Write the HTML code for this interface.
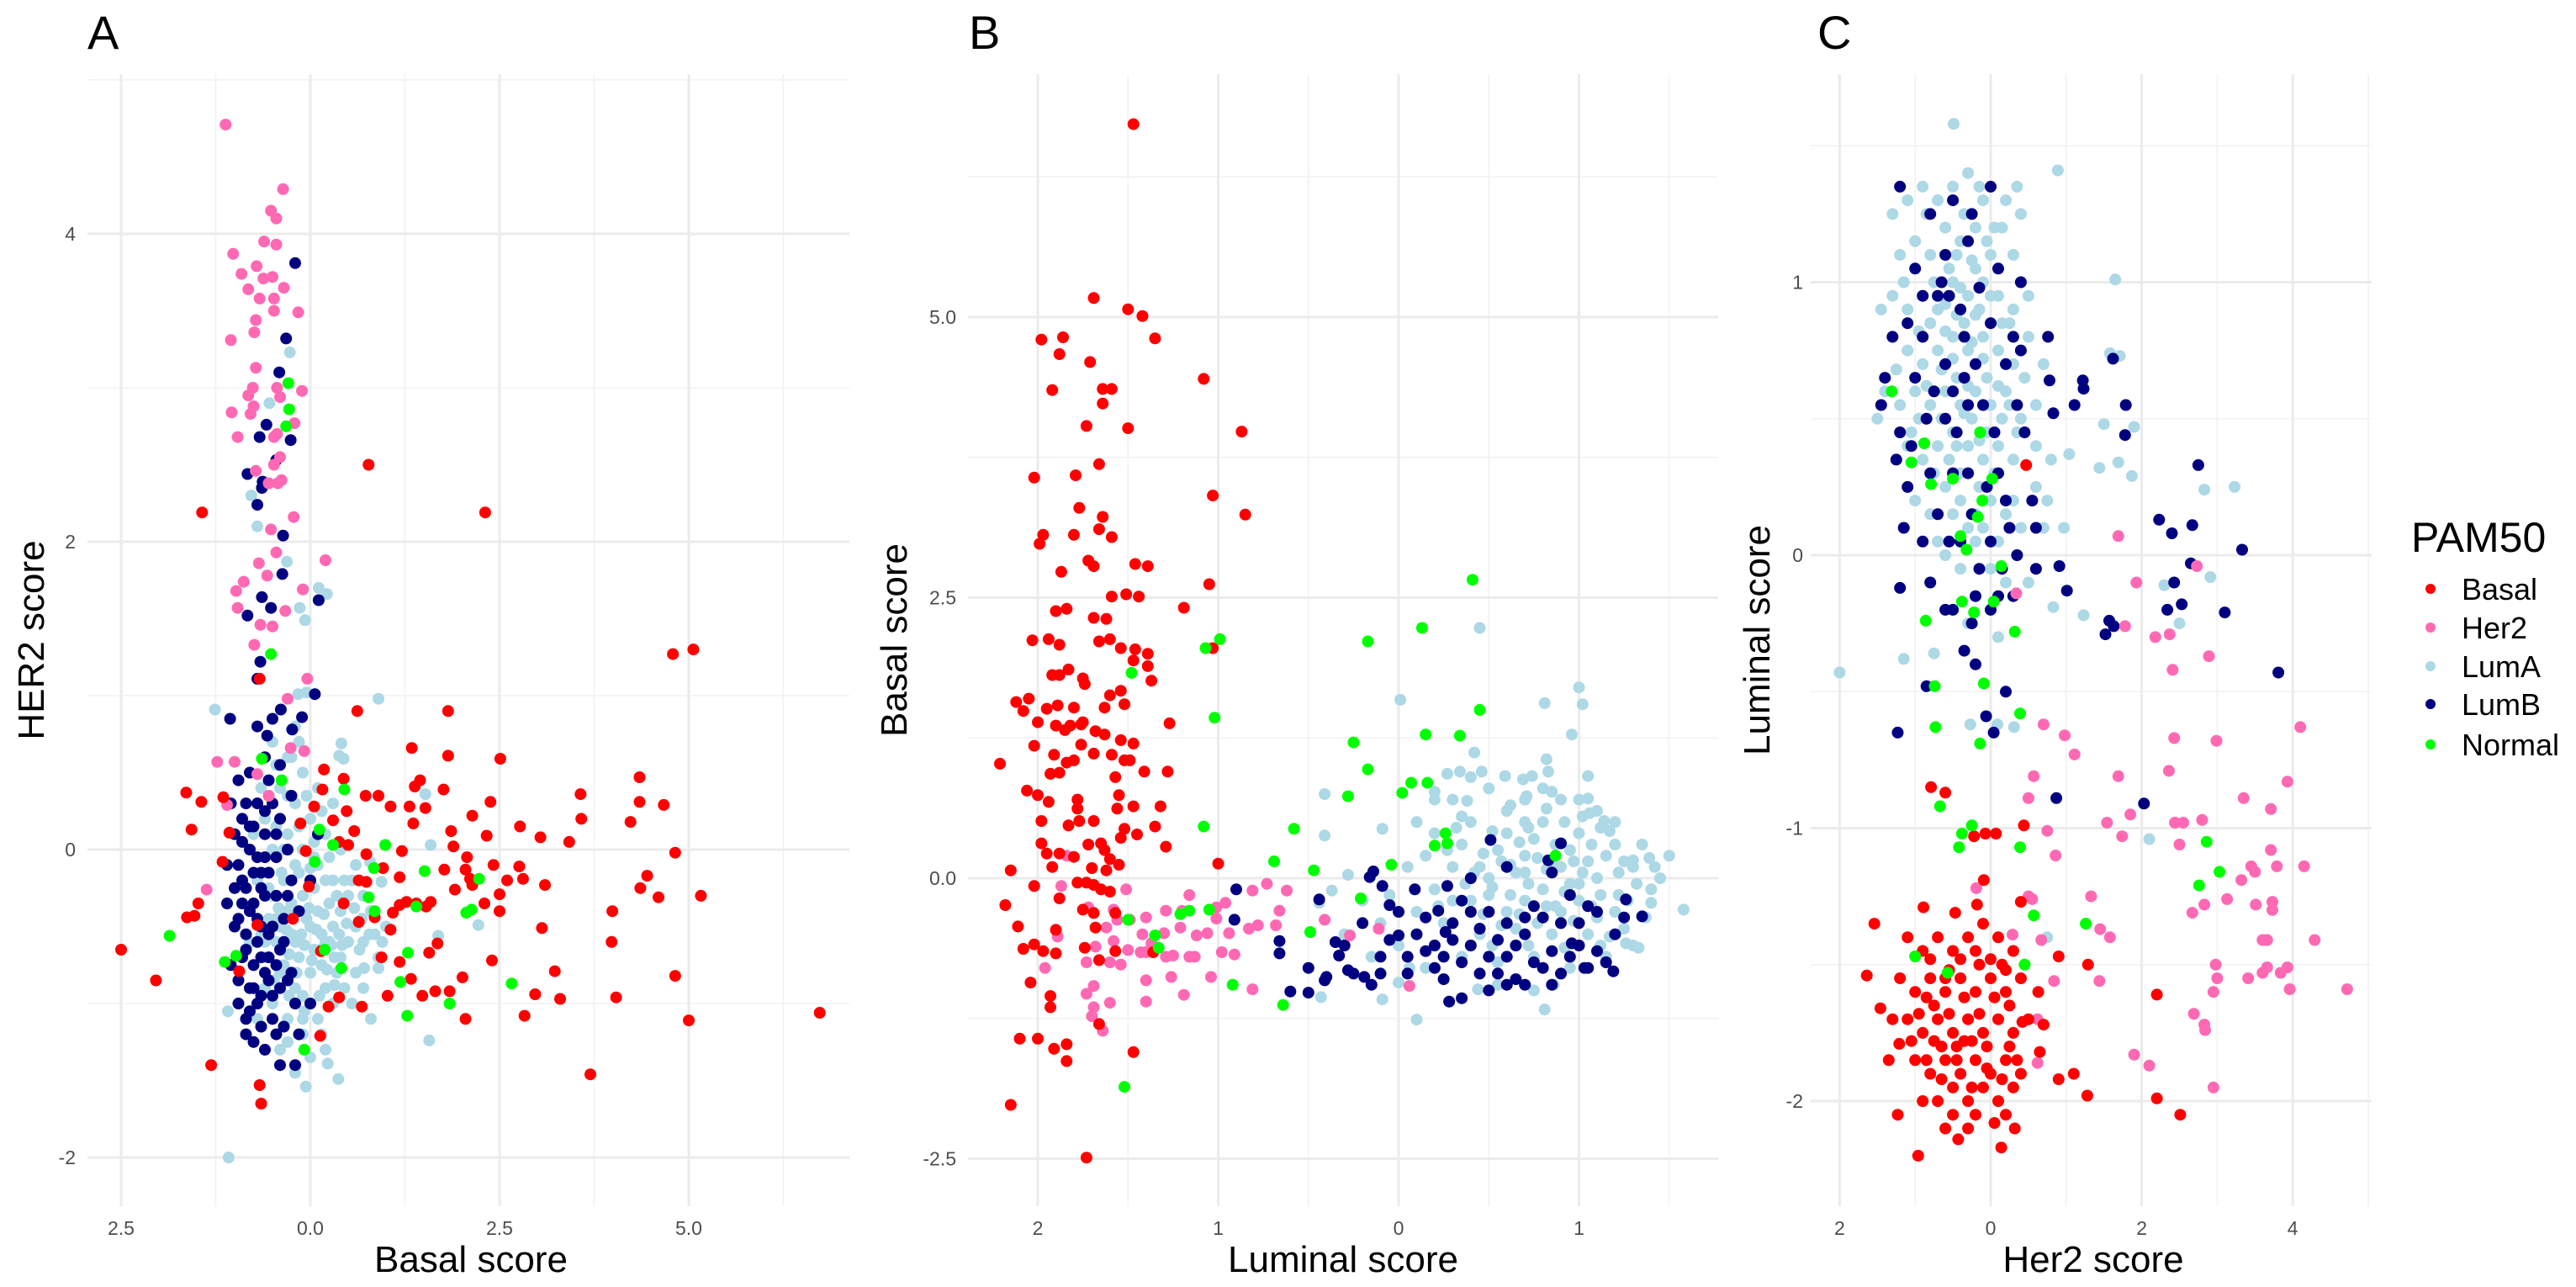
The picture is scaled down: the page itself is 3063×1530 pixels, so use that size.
<!DOCTYPE html>
<html><head><meta charset="utf-8"><title>PAM50 score scatter panels</title>
<style>
html,body{margin:0;padding:0;background:#fff;}
svg{display:block;font-family:"Liberation Sans",Arial,sans-serif;}
</style></head>
<body>
<svg id="chart" xmlns="http://www.w3.org/2000/svg" width="3063" height="1530" viewBox="0 0 3063 1530">
<rect x="0" y="0" width="3063" height="1530" fill="#ffffff"/>
<g id="grid"></g>
<g id="points"></g>
<g id="labels"></g>
<g>
<text x="2867" y="656" font-size="50" fill="#000">PAM50</text>
<g><circle cx="2890" cy="700" r="6" fill="#ff0000"/><text x="2927" y="713" font-size="36">Basal</text></g>
<g><circle cx="2890" cy="746" r="6" fill="#ff69b4"/><text x="2927" y="759" font-size="36">Her2</text></g>
<g><circle cx="2890" cy="792" r="6" fill="#add8e6"/><text x="2927" y="805" font-size="36">LumA</text></g>
<g><circle cx="2890" cy="837" r="6" fill="#000080"/><text x="2927" y="850" font-size="36">LumB</text></g>
<g><circle cx="2890" cy="885" r="6" fill="#00ff00"/><text x="2927" y="898" font-size="36">Normal</text></g>
</g>
</svg>
<script>
// ---------- Panel A: Basal score (x) vs HER2 score (y) ----------
const aXTicks = [-2.5, 0, 2.5, 5];
const aXTickLabels = ["2.5", "0.0", "2.5", "5.0"];
const aYTicks = [-2, 0, 2, 4];
const aYTickLabels = ["-2", "0", "2", "4"];
const aHer2 = [-1.12,4.71,-0.36,4.29,-0.52,4.15,-0.45,4.1,-0.61,3.95,-0.45,3.93,-1.02,3.87,-0.91,3.74,-0.71,3.79,-0.62,3.71,-0.5,3.72,-0.35,3.65,-0.82,3.64,-0.67,3.58,-0.48,3.58,-0.48,3.5,-0.16,3.49,-0.72,3.44,-0.74,3.36,-1.05,3.31,-0.72,3.13,-0.76,3.0,-0.44,3.0,-0.11,2.98,-0.82,2.95,-0.4,2.94,-0.75,2.88,-1.04,2.84,-0.79,2.83,-0.21,2.77,-0.96,2.68,-0.44,2.7,-0.48,2.68,-0.4,2.55,-0.48,2.5,-0.72,2.46,-0.38,2.4,-0.55,2.38,-0.43,2.38,-0.22,2.16,-0.52,2.08,-0.45,1.93,-0.68,1.86,0.2,1.88,-0.57,1.78,-0.88,1.74,-0.98,1.68,-0.1,1.69,-0.96,1.57,-0.33,1.55,-0.66,1.46,-0.5,1.45,-0.74,1.33,-0.04,1.11,-0.3,0.98,-1.0,0.57,-1.23,0.57,-0.26,0.66,-0.08,0.64,-0.7,0.49,-1.1,0.29,-1.37,-0.26,-0.55,0.35];
const aLumB = [-0.2,3.81,-0.32,3.32,-0.41,3.1,-0.58,2.76,-0.67,2.68,-0.26,2.66,-0.45,2.53,-0.83,2.44,-0.63,2.39,-0.64,2.35,-0.7,2.24,-0.36,2.04,-0.37,1.79,-0.64,1.64,-0.52,1.57,0.11,1.62,-0.83,1.52,-0.66,1.22,-0.7,1.11,0.06,1.01,-0.39,0.91,-1.06,0.85,-0.11,0.86,-0.57,0.74,-0.24,0.78,
-0.9,-0.2,-0.8,-0.4,-0.7,-0.6,-0.6,-0.3,-0.5,-0.5,-0.9,-0.7,-0.8,-0.9,-0.7,-1.0,-0.6,-0.8,-0.5,-1.1,-0.4,-0.9,-1.0,-0.5,-1.0,0.1,-0.9,0.2,-0.8,0.0,-0.7,0.3,-0.6,0.1,-0.5,0.3,-0.4,0.2,-0.3,0.0,-1.1,-0.1,-1.1,-0.35,-0.95,-1.0,-0.85,-1.2,-0.75,-1.25,-0.6,-1.3,-0.4,-1.4,-0.2,-1.4,-0.65,-0.5,-0.55,-0.15,-0.45,-0.3,-0.35,-0.6,-0.25,-0.8,-0.15,-0.4,0.0,-0.2,0.1,0.1,-0.85,-0.55,-0.75,-0.75,-0.95,0.45,-0.8,0.5,-0.6,0.6,-0.4,0.55,-0.7,0.8,-0.5,0.85,-0.9,-0.35,-0.55,-0.7,-0.3,-0.3,-0.2,-1.0,0.0,-1.0,-0.8,-1.05,-0.5,-0.95,-1.05,-0.75,-0.65,-0.95,-0.35,-1.15,-0.15,-1.2,-0.7,-0.45,-0.85,0.3,-0.45,-0.05,-0.25,0.35,-1.0,-0.25,-0.55,0.45,-0.65,-0.15,
-0.95,-0.1,-0.85,-0.25,-0.75,-0.35,-0.65,-0.25,-0.75,-0.15,-0.85,-0.65,-0.95,-0.85,-0.65,-0.7,-0.55,-0.55,-0.45,-0.75,-0.55,-0.85,-0.75,-0.9,-0.85,-1.1,-0.65,-1.15,-0.45,-1.2,-0.75,0.15,-0.6,0.25,-0.9,0.05,-0.7,-0.05,-1.05,0.3,-0.8,0.15,-0.45,0.1,-0.35,-0.45,-0.25,-0.2,-0.4,-0.65,-0.3,-0.85,-0.95,-0.45,-0.6,-0.05];
const aLumA = [-1.08,-2.0,-1.26,0.91,0.9,0.98,-0.27,3.23,-0.54,2.9,-0.78,2.3,-0.7,2.1,-0.31,1.87,-0.09,1.69,-0.14,1.57,-0.07,1.49,0.11,1.7,0.22,1.66,-0.16,1.01,-0.05,1.02,1.52,0.36,1.57,-1.24,1.69,-0.56,1.59,0.03,0.37,-1.49,0.23,-1.39,-0.06,-1.54,-1.09,-1.05,2.22,-0.49,0.9,-0.77,0.71,-0.77,0.79,-0.08,0.94,-0.21,0.41,0.69,0.44,0.59,0.38,0.61,
-0.5,-0.3,-0.4,-0.5,-0.3,-0.4,-0.2,-0.6,-0.1,-0.3,0.0,-0.5,0.1,-0.4,0.2,-0.6,0.3,-0.5,0.4,-0.4,0.5,-0.3,0.6,-0.5,0.7,-0.6,0.8,-0.4,0.9,-0.7,0.6,-0.8,0.4,-0.7,0.2,-0.9,0.0,-0.8,-0.2,-0.9,-0.4,-0.8,-0.6,-0.7,-0.5,-1.0,-0.3,-1.1,-0.1,-1.2,0.1,-1.1,-0.4,-1.3,0.3,-1.0,-0.7,-0.2,-0.5,0.0,-0.3,0.1,-0.1,0.0,0.1,-0.1,0.3,-0.2,0.2,0.1,0.0,0.2,-0.2,0.3,-0.4,0.4,-0.6,0.2,-0.3,0.6,-0.1,0.5,0.1,0.4,0.3,0.3,-0.5,0.7,-0.2,0.8,0.4,0.0,0.6,-0.1,0.5,-0.6,0.7,-0.3,-0.35,-0.2,-0.25,-0.35,-0.15,-0.15,-0.05,-0.45,0.05,-0.25,0.15,-0.55,0.25,-0.35,-0.45,-0.6,-0.35,-0.75,-0.25,-0.55,-0.15,-0.7,0.05,-0.65,0.15,-0.75,0.35,-0.8,-0.55,-0.45,-0.65,-0.55,-0.6,-0.9,-0.1,-0.95,0.45,-0.9,0.55,-1.0,0.0,-1.35,-0.2,-1.45,0.2,-1.3,-0.7,-1.1,-0.8,-0.6,-0.75,0.1,0.7,-0.9,0.8,-1.1,1.0,-0.5,0.95,-0.6,0.15,0.25,-0.05,0.35,-0.3,0.35,-0.45,0.15,0.25,-0.05,0.45,-0.2,
-0.42,-0.38,-0.32,-0.52,-0.22,-0.42,-0.12,-0.55,-0.02,-0.38,0.08,-0.52,0.18,-0.42,0.28,-0.62,0.38,-0.55,0.48,-0.48,0.58,-0.38,0.68,-0.45,0.78,-0.55,-0.38,-0.62,-0.28,-0.68,-0.18,-0.8,-0.08,-0.62,0.02,-0.72,0.12,-0.65,0.22,-0.78,0.32,-0.7,0.42,-0.62,-0.48,-0.85,-0.28,-0.95,-0.08,-1.05,0.12,-0.95,0.32,-0.88,-0.38,-0.15,-0.2,-0.1,0.0,-0.12,0.2,-0.2,0.35,-0.3,0.55,-0.2,-0.45,-0.45,-0.55,-0.25,-0.35,0.0,-0.15,0.15,0.05,0.05,0.25,-0.6,0.65,-0.65,0.85,-0.55,0.15,-1.2,-0.1,-1.1,-0.3,-1.25,0.05,-0.05,-0.6,-0.6,-0.65,0.4,-0.45,0.55,-0.25,0.6,-0.15,0.7];
const aBasal = [-2.5,-0.65,-2.04,-0.85,-1.43,2.19,0.77,2.5,2.31,2.19,4.79,1.27,5.06,1.3,-1.64,0.37,-1.44,0.31,-1.57,0.13,-1.15,0.34,-1.63,-0.44,-1.53,-0.43,-1.48,-0.35,-1.31,-1.4,-1.16,-0.08,-0.67,1.11,-0.67,-1.53,-0.65,-1.65,0.62,0.9,1.82,0.9,1.82,0.61,1.34,0.66,2.51,0.59,0.18,0.52,0.44,0.46,0.73,0.35,0.9,0.35,1.06,0.28,1.38,0.41,1.45,0.45,1.76,0.39,1.31,0.28,1.52,0.27,2.38,0.31,2.14,0.22,1.36,0.17,1.86,0.12,2.33,0.09,2.77,0.15,3.04,0.08,3.42,0.05,3.57,0.36,3.58,0.2,4.23,0.18,4.35,0.47,4.35,0.31,4.67,0.29,4.82,-0.02,3.1,-0.23,4.36,-0.25,4.45,-0.17,4.6,-0.31,5.16,-0.3,3.99,-0.4,3.98,-0.6,4.04,-0.96,4.82,-0.82,5.0,-1.11,6.73,-1.06,3.7,-1.46,2.83,-1.08,2.97,-0.94,3.3,-0.97,3.23,-0.79,3.06,-0.51,2.4,-0.72,2.01,-0.83,2.05,-1.1,2.5,-0.4,2.3,-0.35,2.5,-0.29,2.6,-0.2,2.76,-0.11,2.81,-0.19,2.42,-0.1,2.11,-0.19,2.05,-0.13,1.89,0.02,1.77,-0.13,1.91,-0.26,2.07,-0.05,2.14,-0.23,1.59,-0.34,1.57,-0.67,1.48,-0.95,1.33,-0.84,1.18,-0.73,1.06,-0.52,1.02,-0.95,1.18,-0.36,1.27,-0.34,1.4,-0.35,1.53,-0.37,1.09,-0.41,0.94,-0.7,0.96,-0.12,1.18,-0.18,1.21,-0.01,0.85,-0.44,0.74,-0.21,0.64,-0.2,0.5,0.03,0.38,0.05,0.58,0.12,0.3,0.19,0.48,0.25,0.05,0.28,0.16,0.39,-0.13,0.17,-0.06,-0.01,-0.02,-0.24,-0.23,-0.45,0.38,-0.96,0.24,-1.02,0.14,-0.66,0.13,-1.21,0.68,-1.02,0.64,-0.47,0.44,-0.35,0.74,-0.03,1.65,-0.92,1.84,-0.92,1.68,-0.61,-0.7,-0.49,-0.94,-0.79,-1.07,0.11];
const aNormal = [-0.29,3.03,-0.28,2.86,-0.32,2.75,-0.52,1.27,-1.86,-0.56,-1.13,-0.73,-0.64,0.59,-0.38,0.45,0.45,0.39,0.12,0.13,0.3,0.03,0.06,-0.08,0.84,-0.12,0.99,0.03,0.77,-0.31,0.85,-0.4,1.4,-0.37,1.51,-0.14,2.23,-0.19,2.06,-0.41,2.13,-0.39,1.29,-0.67,1.19,-0.86,1.28,-1.08,1.84,-1.0,2.66,-0.87,0.19,-0.65,0.41,-0.77,-0.08,-1.3,-0.98,-0.69];

// ---------- Panel B: Luminal score (x) vs Basal score (y) ----------
const bXTicks = [-2, -1, 0, 1];
const bXTickLabels = ["2", "1", "0", "1"];
const bYTicks = [-2.5, 0, 2.5, 5];
const bYTickLabels = ["-2.5", "0.0", "2.5", "5.0"];
const bLumA = [1.58,-0.28,0.1,-1.26,-0.09,-1.08,-0.43,-1.06,-0.41,0.75,-0.41,0.38,-0.09,0.44,0.01,1.59,0.45,2.23,1.0,1.7,1.02,1.55,0.96,1.28,0.81,1.56,0.42,1.12,0.46,0.95,0.34,0.95,0.27,0.93,0.59,0.91,0.69,0.88,0.74,0.91,0.82,1.06,0.83,0.95,1.05,0.91,0.85,0.77,0.71,0.73,0.38,0.69,0.2,0.77,1.05,0.71,1.06,0.58,1.14,0.51,1.39,0.18,1.3,0.16,1.4,-0.22,1.26,-0.58,1.33,-0.62,0.86,-0.95,0.44,-0.99,0.0,-0.93,0.06,-0.8,-0.44,-0.22,-0.37,-0.11,-0.28,0.03,0.81,-1.17,
0.1,-0.3,0.2,-0.1,0.3,0.1,0.4,-0.2,0.5,0.0,0.6,-0.3,0.7,0.2,0.8,-0.1,0.9,0.1,1.0,-0.2,1.1,0.0,1.2,-0.3,1.3,0.1,1.4,-0.1,0.2,0.4,0.4,0.5,0.6,0.4,0.8,0.5,1.0,0.4,1.2,0.3,0.3,0.7,0.5,0.8,0.7,0.7,0.9,0.7,1.1,0.6,0.15,0.2,0.35,0.3,0.55,0.25,0.75,0.35,0.95,0.25,1.15,0.2,1.35,0.3,0.25,-0.4,0.45,-0.5,0.65,-0.45,0.85,-0.5,1.05,-0.5,1.25,-0.45,0.35,-0.7,0.55,-0.75,0.75,-0.7,0.95,-0.8,1.15,-0.7,1.3,-0.6,0.05,0.1,0.0,-0.6,-0.1,-0.4,-0.2,-0.2,-0.3,-0.5,0.1,0.5,0.45,0.1,0.65,0.05,0.85,0.15,1.05,0.15,0.5,-0.15,0.7,-0.2,0.9,-0.3,1.1,-0.35,0.3,-0.2,0.6,0.6,0.8,0.8,1.0,0.7,0.4,0.9,0.2,0.7,1.2,0.5,1.45,0.0,1.5,0.2,-0.05,-0.15,0.55,-0.95,0.75,-1.0,0.15,-0.8,-0.15,-0.7,1.25,0.15,0.95,-0.05,0.7,0.5,0.35,0.55,
0.42,0.05,0.52,-0.08,0.62,0.12,0.72,-0.05,0.82,0.08,0.92,-0.12,1.02,0.05,1.12,-0.15,1.22,0.05,0.47,0.22,0.57,0.15,0.67,0.32,0.77,0.18,0.87,0.3,0.97,0.15,1.07,0.3,1.17,0.42,0.52,0.42,0.72,0.45,0.92,0.5,1.12,0.45,0.47,-0.32,0.57,-0.42,0.67,-0.32,0.77,-0.4,0.87,-0.25,0.97,-0.38,1.07,-0.25,1.17,-0.52,1.27,-0.2,1.37,-0.35,0.62,0.65,0.82,0.62,1.02,0.55,0.37,-0.05,0.27,0.25,0.22,-0.25,0.32,0.45,1.32,-0.05,1.42,0.1,0.52,-0.6,0.72,-0.6,0.92,-0.62,1.12,-0.6,1.22,-0.15,0.62,-0.15,0.82,-0.25,1.0,-0.05,0.7,0.05];
const bLumB = [-0.9,-0.1,-0.91,-0.37,-0.66,-0.56,-0.66,-0.67,-0.6,-1.01,-0.5,-1.02,-0.5,-0.8,-0.41,-0.91,-0.4,-0.88,-0.44,-0.19,-0.35,-0.57,-0.33,-0.69,-0.28,-0.82,-0.19,-0.88,-0.16,0.01,-0.14,0.06,-0.09,-0.07,-0.05,-0.24,0.0,-0.51,0.09,-0.1,0.27,-0.07,0.22,-0.29,0.26,-0.48,0.28,-1.1,0.35,-1.07,0.51,0.34,0.83,0.16,0.9,0.31,1.26,-0.19,1.19,-0.83,1.35,-0.34,1.03,-0.8,0.96,-0.58,
-0.3,-0.6,-0.2,-0.4,-0.1,-0.7,0.0,-0.3,0.1,-0.5,0.2,-0.8,0.3,-0.4,0.4,-0.6,0.5,-0.3,0.6,-0.7,0.7,-0.5,0.8,-0.8,0.9,-0.4,1.0,-0.6,1.1,-0.3,1.2,-0.5,0.25,-0.9,0.45,-0.85,0.65,-0.9,0.85,-0.65,1.05,-0.8,0.35,-0.2,0.55,-0.55,0.75,-0.25,0.95,-0.15,0.15,-0.65,-0.05,-0.55,-0.25,-0.85,-0.15,-0.95,0.05,-0.85,0.5,-1.0,0.7,-0.95,1.15,-0.75,0.4,0.0,0.6,0.1,0.85,0.05,0.3,-0.55,0.5,-0.7,0.8,-0.35,0.6,-0.4,
0.35,-0.75,0.45,-0.45,0.55,-0.85,0.65,-0.6,0.75,-0.75,0.9,-0.85,1.0,-0.4,1.1,-0.65,1.25,-0.35,0.15,-0.35,0.05,-0.7,-0.1,-0.85,0.2,-0.6,0.4,-0.3,0.7,-0.35,0.95,-0.7,1.05,-0.25,0.25,-0.7,0.6,-0.95,0.85,-0.95];
const bHer2 = [-1.84,0.2,-1.87,-0.07,-1.89,-0.52,-1.96,-0.8,-1.51,-0.1,-1.72,-0.26,-1.58,-0.28,-1.56,-0.37,-1.49,-0.37,-1.4,-0.35,-1.29,-0.29,-1.2,-0.29,-1.16,-0.15,-1.06,-0.49,-1.12,-0.51,-1.21,-0.44,-1.3,-0.49,-1.37,-0.58,-1.42,-0.5,-1.58,-0.56,-1.62,-0.44,-1.68,-0.61,-1.73,-0.75,-1.5,-0.64,-1.43,-0.66,-1.4,-0.66,-1.25,-0.69,-1.13,-0.7,-1.26,-0.88,-1.4,-0.91,-1.54,-0.77,-1.6,-0.75,-1.69,-0.96,-1.4,-1.1,-1.6,-1.11,-1.19,-1.04,-1.73,-1.03,-1.69,-1.15,-1.7,-1.23,-1.64,-1.36,-1.04,-0.88,-1.01,-0.26,-0.94,-0.49,-0.98,-0.66,-0.91,-0.68,-1.01,-0.36,-0.81,-0.11,-0.73,-0.05,-0.62,-0.11,-0.66,-0.29,-0.78,-0.42,-0.83,-0.45,-0.81,-0.99,-0.68,-0.42,-0.41,-0.37,-0.27,-0.51,-0.11,-0.45,0.06,-0.96,-0.96,-0.22,-1.16,-0.7,-1.29,-0.7];
const bBasal = [-1.47,6.72,-1.69,5.17,-1.5,5.07,-1.42,5.01,-1.35,4.81,-1.98,4.8,-1.86,4.82,-1.88,4.67,-1.71,4.6,-1.92,4.35,-1.64,4.36,-1.59,4.36,-1.64,4.23,-1.73,4.03,-1.5,4.01,-1.08,4.45,-0.87,3.98,-2.02,3.57,-1.79,3.59,-1.66,3.69,-1.03,3.41,-0.85,3.24,-1.77,3.3,-1.64,3.22,-1.66,3.11,-1.97,3.06,-1.99,2.98,-1.8,3.06,-1.59,3.04,-1.87,2.73,-1.72,2.83,-1.69,2.78,-1.46,2.8,-1.39,2.78,-1.05,2.62,-1.59,2.51,-1.51,2.53,-1.44,2.51,-1.19,2.41,-1.84,2.4,-1.9,2.38,-1.69,2.32,-1.62,2.31,-2.03,2.12,-1.94,2.13,-1.88,2.08,-1.66,2.11,-1.6,2.13,-1.54,2.05,-1.46,2.04,-1.39,2.0,-1.47,1.94,-1.39,1.89,-1.37,1.76,-1.03,2.05,-1.92,1.81,-1.88,1.81,-1.83,1.86,-1.75,1.78,-1.74,1.73,-1.54,1.67,-1.52,1.55,-2.12,1.57,-2.05,1.6,-2.08,1.49,-1.95,1.51,-1.89,1.54,-1.8,1.52,-1.63,1.52,-1.6,1.63,-1.9,1.36,-1.85,1.32,-1.82,1.36,-1.76,1.37,-1.75,1.39,-1.68,1.31,-1.63,1.28,-1.27,1.38,-2.0,1.39,-2.02,1.18,-1.91,1.1,-1.76,1.19,-1.69,1.11,-1.59,1.1,-1.54,1.23,-1.47,1.2,-2.21,1.02,-1.93,0.93,-1.88,0.94,-1.84,1.03,-1.8,1.05,-1.52,1.05,-1.49,1.05,-1.41,0.95,-1.28,0.95,-1.57,0.9,-2.06,0.78,-2.0,0.74,-1.94,0.68,-1.78,0.7,-1.78,0.62,-1.55,0.74,-1.56,0.62,-1.47,0.64,-1.32,0.64,-1.98,0.51,-1.83,0.47,-1.77,0.51,-1.69,0.51,-1.52,0.44,-1.35,0.46,-1.98,0.31,-1.72,0.3,-1.65,0.31,-1.63,0.25,-1.54,0.36,-1.45,0.39,-1.29,0.28,-1.95,0.22,-1.88,0.22,-1.8,0.19,-1.6,0.17,-1.55,0.12,-1.92,0.1,-1.7,0.09,-1.62,0.07,-2.15,0.07,-1.0,0.13,-1.78,-0.04,-1.73,-0.04,-1.69,-0.06,-1.65,-0.1,-1.6,-0.12,-2.02,-0.07,-1.88,-0.18,-2.18,-0.24,-1.75,-0.28,-1.69,-0.31,-1.57,-0.31,-2.11,-0.43,-1.9,-0.46,-1.68,-0.44,-2.08,-0.63,-2.02,-0.59,-1.97,-0.65,-1.9,-0.67,-1.74,-0.62,-1.57,-0.65,-1.66,-0.73,-1.36,-0.66,-2.04,-0.93,-1.93,-1.05,-1.93,-1.15,-1.66,-1.3,-2.1,-1.43,-2.0,-1.43,-1.91,-1.52,-1.84,-1.48,-1.84,-1.63,-1.47,-1.55,-2.15,-2.02,-1.73,-2.49];
const bNormal = [0.41,2.66,0.13,2.23,-0.17,2.11,-0.99,2.13,-1.07,2.05,-1.48,1.83,-1.02,1.43,0.45,1.5,0.15,1.28,0.34,1.27,-0.25,1.21,-0.17,0.97,0.07,0.85,0.16,0.85,-0.28,0.73,0.02,0.76,-1.08,0.46,-0.58,0.44,0.2,0.29,0.27,0.31,-0.69,0.15,-0.47,0.07,-0.04,0.12,0.26,0.4,0.87,0.2,-1.5,-0.37,-1.35,-0.51,-1.21,-0.32,-1.16,-0.29,-1.05,-0.28,-0.49,-0.48,-0.21,-0.18,-0.92,-0.95,-0.64,-1.13,-1.52,-1.86,-1.33,-0.62];

// ---------- Panel C: Her2 score (x) vs Luminal score (y) ----------
const cXTicks = [-2, 0, 2, 4];
const cXTickLabels = ["2", "0", "2", "4"];
const cYTicks = [-2, -1, 0, 1];
const cYTickLabels = ["-2", "-1", "0", "1"];
const cLumA = [-0.49,1.58,0.89,1.41,1.65,1.01,1.58,0.74,1.71,0.73,1.5,0.48,1.9,0.47,1.44,0.32,1.69,0.34,1.87,0.29,2.83,0.24,3.23,0.25,2.91,-0.08,2.3,-0.11,2.5,-0.25,1.23,-0.22,-2.0,-0.43,-1.15,-0.38,2.1,-1.04,0.75,-1.4,-0.75,-0.36,-0.27,-0.62,0.31,-0.63,0.09,-0.62,0.83,-0.19,0.97,0.1,1.04,0.37,
-1.3,1.25,-1.1,1.3,-0.9,1.35,-0.7,1.3,-0.5,1.35,-0.3,1.4,-0.1,1.3,0.2,1.3,0.4,1.25,-1.2,1.1,-1.0,1.15,-0.8,1.1,-0.6,1.2,-0.4,1.15,-0.2,1.2,0.0,1.1,0.3,1.1,-1.3,0.95,-1.1,0.9,-0.9,0.95,-0.7,0.9,-0.5,1.0,-0.3,0.95,-0.1,1.0,0.1,0.95,0.3,0.9,0.5,0.95,-1.3,0.8,-1.1,0.75,-0.9,0.7,-0.7,0.75,-0.5,0.8,-0.3,0.75,-0.1,0.8,0.1,0.75,0.3,0.7,0.5,0.8,0.7,0.7,-1.4,0.6,-1.2,0.55,-1.0,0.6,-0.8,0.55,-0.6,0.6,-0.4,0.55,-0.2,0.6,0.0,0.55,0.2,0.6,0.4,0.5,0.6,0.55,-1.1,0.4,-0.9,0.35,-0.7,0.4,-0.5,0.45,-0.3,0.4,-0.1,0.35,0.1,0.4,0.3,0.35,0.6,0.4,0.8,0.35,-1.0,0.2,-0.8,0.15,-0.6,0.25,-0.4,0.2,-0.2,0.15,0.0,0.2,0.2,0.15,0.4,0.1,0.7,0.1,-0.6,0.0,-0.4,-0.05,-0.2,0.05,0.0,-0.05,0.2,-0.1,0.5,-0.1,-0.8,-0.1,-0.3,-0.25,0.1,-0.3,-0.55,1.05,-0.35,0.85,-0.15,0.9,-0.45,0.65,-0.25,0.5,-0.05,0.65,0.15,0.5,-0.65,0.5,-0.75,1.0,0.05,1.2,0.35,1.35,-0.85,1.25,-1.45,0.9,-1.5,0.5,-0.95,0.5,0.25,0.85,0.45,0.65,0.6,0.25,0.75,0.2,-0.2,1.05,-0.4,0.3,-0.15,0.25,0.35,0.45,
-0.6,0.92,-0.4,0.98,-0.2,0.88,0.0,0.95,-0.5,0.72,-0.3,0.62,-0.1,0.72,0.1,0.62,-0.6,0.82,-0.8,0.85,-0.45,1.1,-0.25,1.08,-0.05,1.15,-0.35,0.52,-0.15,0.42,0.05,0.3,-0.55,0.35,-0.75,0.3,-0.95,0.82,-1.15,1.0,-0.65,0.68,-0.85,0.62,0.15,0.85,0.25,0.55,-0.35,1.25,-0.15,1.35,0.15,1.2,-1.05,0.45,-1.25,0.68,-0.5,0.15,-0.3,0.1,-0.1,0.1,0.1,0.05,0.3,0.2,-0.7,0.05,-0.45,0.4,-0.25,0.78,-0.45,0.88,-0.05,0.45];
const cLumB = [1.22,0.64,1.23,0.61,1.11,0.55,0.83,0.52,0.78,0.64,1.62,0.72,1.79,0.55,1.78,0.44,0.76,0.8,2.75,0.33,2.23,0.13,2.4,0.08,2.67,0.11,3.33,0.02,2.65,-0.03,2.43,-0.1,2.53,-0.18,2.34,-0.2,3.1,-0.21,1.57,-0.24,1.63,-0.26,1.52,-0.29,3.81,-0.43,2.03,-0.91,0.87,-0.89,1.01,-0.13,0.91,-0.04,-1.23,-0.65,-1.2,-0.12,-0.85,-0.48,0.04,-0.65,-0.06,-0.59,0.2,-0.5,
-1.2,1.35,-0.8,1.25,-0.5,1.3,0.0,1.35,-1.0,1.05,-0.6,1.1,-0.3,1.15,0.1,1.05,0.4,1.0,-1.1,0.85,-0.7,0.95,-0.4,0.9,0.0,0.85,0.3,0.8,-1.3,0.8,-0.9,0.8,-0.6,0.7,-0.2,0.7,0.2,0.7,0.4,0.75,-1.4,0.65,-1.0,0.65,-0.5,0.6,-0.1,0.55,0.35,0.55,-1.45,0.55,-1.2,0.45,-0.85,0.5,-0.45,0.45,0.05,0.45,0.45,0.45,-1.25,0.35,-0.8,0.3,-0.3,0.3,0.1,0.3,0.55,0.2,-1.1,0.25,-0.7,0.15,-0.25,0.15,0.2,0.2,0.6,0.1,-1.15,0.1,-0.9,0.05,-0.55,0.05,0.0,0.05,0.35,0.0,0.6,-0.05,-0.8,-0.1,-0.5,-0.2,-0.2,-0.15,0.1,-0.15,0.3,-0.15,-0.6,-0.2,-0.35,-0.35,-0.2,-0.4,0.0,-0.2,-0.65,1.0,-0.25,1.25,-0.75,0.6,-0.35,0.65,
-0.55,0.95,-0.35,0.8,-0.15,0.98,-0.6,0.5,-0.3,0.55,-0.05,0.25,-0.4,0.05,-0.15,-0.05,-0.5,0.3,0.25,0.1,-0.9,0.95,-1.05,0.4,0.15,-0.05,-0.25,-0.25];
const cHer2 = [1.69,0.07,2.73,-0.04,1.93,-0.1,1.78,-0.26,2.18,-0.3,2.37,-0.29,2.89,-0.37,2.41,-0.42,0.34,-0.14,0.7,-0.62,0.98,-0.66,1.11,-0.73,0.57,-0.81,0.5,-0.89,0.75,-1.01,0.86,-1.1,1.33,-1.25,1.45,-1.37,1.58,-1.4,1.44,-1.56,1.69,-0.81,1.54,-0.98,1.74,-1.03,1.85,-0.95,2.36,-0.79,2.43,-0.67,2.44,-0.98,2.55,-0.98,2.5,-1.06,2.8,-0.97,2.99,-0.68,3.35,-0.89,3.71,-0.93,3.93,-0.83,4.1,-0.63,4.15,-1.14,3.79,-1.14,3.71,-1.08,3.45,-1.14,3.5,-1.16,3.32,-1.19,3.13,-1.26,2.83,-1.28,2.67,-1.31,3.51,-1.28,3.73,-1.27,3.73,-1.3,4.29,-1.41,3.6,-1.41,3.66,-1.41,2.98,-1.5,3.0,-1.55,2.95,-1.6,3.41,-1.55,3.6,-1.53,3.66,-1.51,3.84,-1.53,3.93,-1.51,3.96,-1.59,4.72,-1.59,2.69,-1.68,2.83,-1.72,2.84,-1.74,1.9,-1.83,2.1,-1.87,2.95,-1.95,0.5,-1.25,0.55,-1.26,0.29,-1.39,0.67,-1.41,0.84,-1.56,0.62,-1.86,0.62,-1.7,-0.19,-1.22];
const cBasal = [0.47,0.33,-0.79,-0.85,-0.6,-0.87,-0.22,-1.03,-0.07,-1.02,0.07,-1.02,0.44,-0.99,-0.09,-1.19,-0.18,-1.28,0.4,-1.27,-0.89,-1.29,-0.47,-1.31,-1.54,-1.35,-1.64,-1.54,-1.46,-1.66,0.9,-1.47,1.29,-1.5,2.2,-1.61,0.9,-1.92,1.1,-1.9,1.28,-1.98,2.2,-1.99,2.51,-2.05,-1.23,-2.05,-0.96,-2.2,0.14,-2.17,-0.43,-2.14,0.32,-2.1,0.65,-1.82,0.7,-1.72,-1.21,-1.79,0.42,-1.71,0.63,-1.6,
-1.1,-1.4,-0.9,-1.45,-0.7,-1.4,-0.5,-1.45,-0.3,-1.4,-0.1,-1.35,0.1,-1.4,0.3,-1.45,-1.2,-1.55,-1.0,-1.6,-0.8,-1.55,-0.6,-1.6,-0.4,-1.55,-0.2,-1.6,0.0,-1.55,0.2,-1.6,0.4,-1.55,-1.1,-1.7,-0.9,-1.75,-0.7,-1.7,-0.5,-1.75,-0.3,-1.7,-0.1,-1.75,0.1,-1.7,0.3,-1.75,0.5,-1.7,-1.0,-1.85,-0.8,-1.9,-0.6,-1.85,-0.4,-1.9,-0.2,-1.85,0.0,-1.9,0.2,-1.85,0.4,-1.9,-0.9,-2.0,-0.7,-2.0,-0.5,-1.95,-0.3,-2.0,-0.1,-1.95,0.1,-2.0,0.3,-1.95,-0.6,-2.1,-0.2,-2.05,0.05,-2.08,-0.75,-1.65,-0.35,-1.62,-0.15,-1.5,0.15,-1.5,-0.45,-1.8,-0.05,-1.8,0.25,-1.8,-0.65,-1.8,-0.85,-1.62,-0.25,-1.95,-0.55,-1.52,-1.3,-1.7,-1.35,-1.85,
-0.95,-1.68,-0.75,-1.78,-0.55,-1.68,-0.35,-1.78,-0.15,-1.68,0.05,-1.62,0.25,-1.65,-0.85,-1.85,-0.65,-1.92,-0.45,-1.85,-0.25,-1.78,-0.05,-1.88,0.15,-1.92,0.35,-1.85,-0.6,-1.55,-0.4,-1.48,-0.2,-1.45,0.0,-1.48,0.2,-1.52,-0.8,-1.48,-1.05,-1.78,-0.5,-2.05,-0.3,-2.1,0.2,-2.05];
const cNormal = [-1.31,0.6,-0.88,0.41,-1.05,0.34,-0.79,0.26,-0.5,0.28,-0.14,0.45,0.02,0.28,-0.11,0.2,-0.17,0.14,-0.4,0.07,-0.32,0.02,0.14,-0.04,-0.38,-0.17,-0.22,-0.21,0.04,-0.17,0.32,-0.28,-0.86,-0.24,-0.74,-0.48,-0.09,-0.47,0.39,-0.58,-0.73,-0.63,-0.14,-0.69,-0.67,-0.92,-0.25,-0.99,-0.38,-1.02,-0.42,-1.07,0.39,-1.07,0.57,-1.32,1.26,-1.35,2.76,-1.21,2.86,-1.05,3.03,-1.16,0.45,-1.5,-0.57,-1.53,-1.0,-1.47];

const COLORS = {Basal:"#ff0000", Her2:"#ff69b4", LumA:"#add8e6", LumB:"#000080", Normal:"#00ff00"};
const NS = "http://www.w3.org/2000/svg";
const gGrid = document.getElementById('grid');
const gPts = document.getElementById('points');
const gLab = document.getElementById('labels');

function mk(tag, attrs, parent){
  const e = document.createElementNS(NS, tag);
  for (const k in attrs) e.setAttribute(k, attrs[k]);
  parent.appendChild(e);
  return e;
}
function linScale(v0, p0, v1, p1){ return v => p0 + (v - v0) * (p1 - p0) / (v1 - v0); }

const panels = [
  {id:'a', letter:'A', left:104, right:1010, top:88, bottom:1434,
   sx: linScale(0, 369, 2.5, 594), sy: linScale(0, 1010, 2, 644),
   xt:aXTicks, xl:aXTickLabels, yt:aYTicks, yl:aYTickLabels, ylabX:90,
   xTitle:'Basal score', yTitle:'HER2 score', xTitleX:560, yTitleX:52, letterX:104,
   series:[['LumA',aLumA],['LumB',aLumB],['Her2',aHer2],['Basal',aBasal],['Normal',aNormal]]},
  {id:'b', letter:'B', left:1151, right:2043, top:88, bottom:1434,
   sx: linScale(0, 1663, 1, 1877.5), sy: linScale(0, 1044, 2.5, 710.5),
   xt:bXTicks, xl:bXTickLabels, yt:bYTicks, yl:bYTickLabels, ylabX:1137,
   xTitle:'Luminal score', yTitle:'Basal score', xTitleX:1597, yTitleX:1078, letterX:1152,
   series:[['LumA',bLumA],['LumB',bLumB],['Her2',bHer2],['Basal',bBasal],['Normal',bNormal]]},
  {id:'c', letter:'C', left:2153, right:2820, top:88, bottom:1434,
   sx: linScale(0, 2367, 2, 2546.6), sy: linScale(0, 660, 1, 335.5),
   xt:cXTicks, xl:cXTickLabels, yt:cYTicks, yl:cYTickLabels, ylabX:2144,
   xTitle:'Her2 score', yTitle:'Luminal score', xTitleX:2489, yTitleX:2104, letterX:2161,
   series:[['LumA',cLumA],['LumB',cLumB],['Her2',cHer2],['Basal',cBasal],['Normal',cNormal]]}
];

panels.forEach(p => {
  const xs = p.xt, ys = p.yt;
  const dx = xs[1]-xs[0], dy = ys[1]-ys[0];
  const xMinor = [xs[0]-dx/2]; xs.forEach(v => xMinor.push(v+dx/2));
  const yMinor = [ys[0]-dy/2]; ys.forEach(v => yMinor.push(v+dy/2));
  xMinor.forEach(v => { const x = p.sx(v); if (x>=p.left-1 && x<=p.right+1) {
    const l = mk('line',{x1:x,x2:x,y1:p.top,y2:p.bottom,stroke:'#f2f2f2','stroke-width':1.6},gGrid);
    
     }});
  yMinor.forEach(v => { const y = p.sy(v); if (y>=p.top-1 && y<=p.bottom+1) {
    const l = mk('line',{x1:p.left,x2:p.right,y1:y,y2:y,stroke:'#f2f2f2','stroke-width':1.6},gGrid);
    
     }});
  xs.forEach((v,i) => { const x = p.sx(v);
    const l = mk('line',{x1:x,x2:x,y1:p.top,y2:p.bottom,stroke:'#ebebeb','stroke-width':3},gGrid);
    
    
    const t = mk('text',{x:x,y:1468,'font-size':23,fill:'#4d4d4d','text-anchor':'middle'},gLab);
    t.textContent = p.xl[i];
    
    
  });
  ys.forEach((v,i) => { const y = p.sy(v);
    const l = mk('line',{x1:p.left,x2:p.right,y1:y,y2:y,stroke:'#ebebeb','stroke-width':3},gGrid);
    
    
    const t = mk('text',{x:p.ylabX,y:y+8,'font-size':23,fill:'#4d4d4d','text-anchor':'end'},gLab);
    t.textContent = p.yl[i];
    
    
  });
  p.series.forEach(([cls, arr]) => {
    const g = mk('g',{},gPts);
    
    
    for (let i = 0; i + 1 < arr.length; i += 2) {
      const c = mk('circle',{cx:p.sx(arr[i]).toFixed(1), cy:p.sy(arr[i+1]).toFixed(1), r:7, fill:COLORS[cls]}, g);
      
      
    }
  });
  const xt = mk('text',{x:p.xTitleX,y:1512,'font-size':44,fill:'#000','text-anchor':'middle'},gLab);
  xt.textContent = p.xTitle;
  
  
  const yt = mk('text',{x:0,y:0,'font-size':44,fill:'#000','text-anchor':'middle',transform:`translate(${p.yTitleX},761) rotate(-90)`},gLab);
  yt.textContent = p.yTitle;
  
  
  const lt = mk('text',{x:p.letterX,y:58,'font-size':56,fill:'#000'},gLab);
  lt.textContent = p.letter;
  
  
});
</script>
</body></html>
